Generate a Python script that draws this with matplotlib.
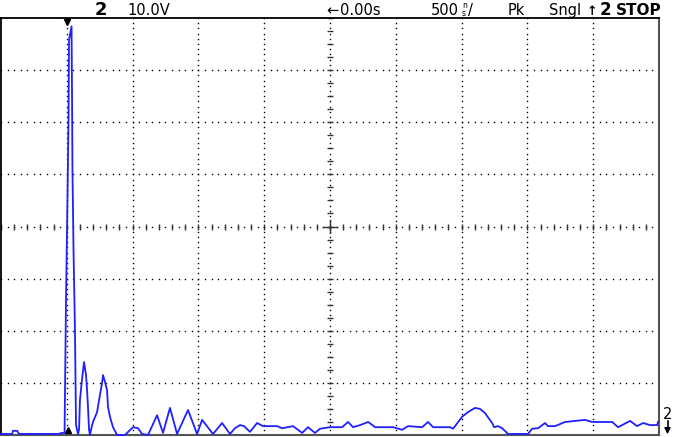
import numpy as np
import matplotlib
matplotlib.use("Agg")
import matplotlib.pyplot as plt

# scope settings: 500 ns/div, 10 V/div, 10 x 8 divisions
t_div = 0.5      # us per division
v_div = 10.0     # V per division
t_min, t_max = -0.5, 4.5
v_min, v_max = 0.0, 80.0

# trace (time in us, volts)
trace_t = [-0.500, -0.416, -0.409, -0.378, -0.363, -0.067, -0.036, -0.017,
           -0.006, 0.005, 0.013, 0.017, 0.036, 0.040, 0.043, 0.051, 0.062,
           0.070, 0.085,
           0.093, 0.100, 0.115, 0.131, 0.146, 0.154, 0.161, 0.169, 0.176,
           0.184, 0.199, 0.230, 0.245, 0.268, 0.275, 0.290, 0.306, 0.313,
           0.328, 0.351, 0.382, 0.442, 0.458, 0.503, 0.541, 0.572, 0.617,
           0.686, 0.731, 0.784, 0.838, 0.921, 0.990, 1.028, 1.111, 1.180,
           1.240, 1.278, 1.316, 1.347, 1.392, 1.446, 1.491, 1.598, 1.636,
           1.719, 1.788, 1.833, 1.886, 1.924, 2.000, 2.092, 2.137, 2.175,
           2.229, 2.290, 2.343, 2.479, 2.548, 2.593, 2.700, 2.745, 2.783,
           2.912, 2.935, 3.004, 3.049, 3.102, 3.140, 3.178, 3.232, 3.247,
           3.277, 3.308, 3.353, 3.505, 3.536, 3.581, 3.634, 3.657, 3.710,
           3.786, 3.938, 3.992, 4.144, 4.189, 4.280, 4.334, 4.379, 4.432,
           4.486, 4.493]
trace_v = [0.2, 0.2, 0.8, 0.8, 0.2, 0.2, 0.4, 0.4,
           25.9, 45.1, 60.4, 75.8, 78.4, 64.3, 50.8, 35.5, 20.1,
           1.9, 0.2,
           1.0, 6.7, 10.5, 14.0, 11.5, 8.6, 5.4, 1.0, 0.0,
           1.0, 2.5, 4.4, 6.7, 10.0, 11.5, 10.2, 8.6, 5.4,
           3.5, 1.5, 0.0, 0.0, 0.4, 1.5, 1.3, 0.2, 0.0,
           3.8, 0.4, 5.2, 0.2, 4.8, 0.2, 2.9, 0.2, 2.3,
           0.2, 1.3, 1.9, 1.7, 0.6, 2.3, 1.7, 1.7, 1.3,
           1.7, 0.4, 1.5, 0.4, 1.2, 1.5, 1.5, 2.5, 1.5,
           1.9, 2.5, 1.5, 1.5, 1.0, 1.7, 1.5, 2.5, 1.5,
           1.5, 1.2, 3.5, 4.4, 5.2, 5.0, 4.2, 2.3, 1.5,
           1.7, 1.3, 0.2, 0.2, 1.2, 1.3, 2.3, 1.7, 1.7,
           2.5, 2.9, 2.5, 2.5, 1.5, 2.7, 1.7, 2.3, 1.9,
           1.9, 2.5]

W, H = 675, 437
fig = plt.figure(figsize=(W / 100, H / 100), dpi=100)
fig.patch.set_facecolor("white")

# screen area in pixels: x 1..659, y 18..435
ax = fig.add_axes([1 / W, (H - 435) / H, 658 / W, 417 / H])
ax.set_xlim(t_min, t_max)
ax.set_ylim(v_min, v_max)
ax.set_xticks([])
ax.set_yticks([])
for s in ["top", "left"]:
    ax.spines[s].set_color("black")
    ax.spines[s].set_linewidth(1.3)
for s in ["right", "bottom"]:
    ax.spines[s].set_color("#555555")
    ax.spines[s].set_linewidth(1.5)

# dotted graticule
dot = dict(ls="none", marker="s", ms=1.0, mew=0, color="black")
v_dots = np.arange(v_min, v_max + 0.01, v_div / 10)
t_dots = np.arange(t_min, t_max + 0.001, t_div / 10)
for k in range(1, 10):
    t = t_min + k * t_div
    ax.plot(np.full_like(v_dots, t), v_dots, **dot)
for k in range(1, 8):
    v = v_min + k * v_div
    ax.plot(t_dots, np.full_like(t_dots, v), **dot)

# centre axes with minor ticks
t_c = (t_min + t_max) / 2
v_c = (v_min + v_max) / 2
v_ticks = np.arange(v_min, v_max + 0.01, v_div / 4)
t_ticks = np.arange(t_min, t_max + 0.001, t_div / 5)
ax.plot(np.full_like(v_ticks, t_c), v_ticks, ls="none", marker="_", ms=4,
        mew=1.0, color="#333333")
ax.plot(t_ticks, np.full_like(t_ticks, v_c), ls="none", marker="|", ms=4,
        mew=1.0, color="#333333")
ax.plot([t_c - 0.05, t_c + 0.05], [v_c, v_c], color="#333333", lw=1.0)
ax.plot([t_c, t_c], [v_c - 1.3, v_c + 1.3], color="#333333", lw=1.0)

# the captured waveform
ax.plot(trace_t, trace_v, color="#2020ff", lw=1.3, clip_on=False, zorder=5)

# trigger markers
ax.plot(0.005, 79.3, marker="v", ms=5, color="black", clip_on=False, zorder=6)
ax.plot(0.01, 0.9, marker="^", ms=5, color="black", clip_on=False, zorder=6)


def px(x, y):
    return x / W, 1 - y / H


# status line
font = "DejaVu Sans"
fig.text(*px(95, 15), "2", fontsize=13, fontweight="bold", family=font)
fig.text(*px(127, 15), "10.0V", fontsize=10.5, family=font)
fig.text(*px(326, 15), "←", fontsize=10.5, family=font)
fig.text(*px(340, 15), "0.00s", fontsize=10.5, family=font)
fig.text(*px(431, 15), "500", fontsize=10.5, family=font)
fig.text(*px(462, 8), "n", fontsize=5.5, family=font)
fig.text(*px(462, 16.5), "s", fontsize=5.5, family=font)
fig.text(*px(468, 15), "/", fontsize=10.5, family=font)
fig.text(*px(508, 15), "Pk", fontsize=10.5, family=font)
fig.text(*px(549, 15), "Sngl", fontsize=10.5, family=font)
fig.text(*px(587, 15), "↑", fontsize=9, fontweight="bold", family=font)
fig.text(*px(600, 15), "2", fontsize=12, fontweight="bold", family=font)
fig.text(*px(616, 15), "STOP", fontsize=11, fontweight="bold", family=font)

# ground reference marker for channel 2
fig.text(*px(663, 419), "2", fontsize=10.5, family=font)
fig.add_artist(plt.Line2D([667.5 / W, 667.5 / W], [1 - 421 / H, 1 - 430 / H],
                          color="black", lw=1.2))
ax.annotate("", xy=(667.5, H - 437), xycoords="figure pixels",
            xytext=(667.5, H - 427), textcoords="figure pixels",
            arrowprops=dict(arrowstyle="-|>", color="black", lw=1.0,
                            mutation_scale=9))

fig.savefig("out.png", dpi=100, facecolor="white")
